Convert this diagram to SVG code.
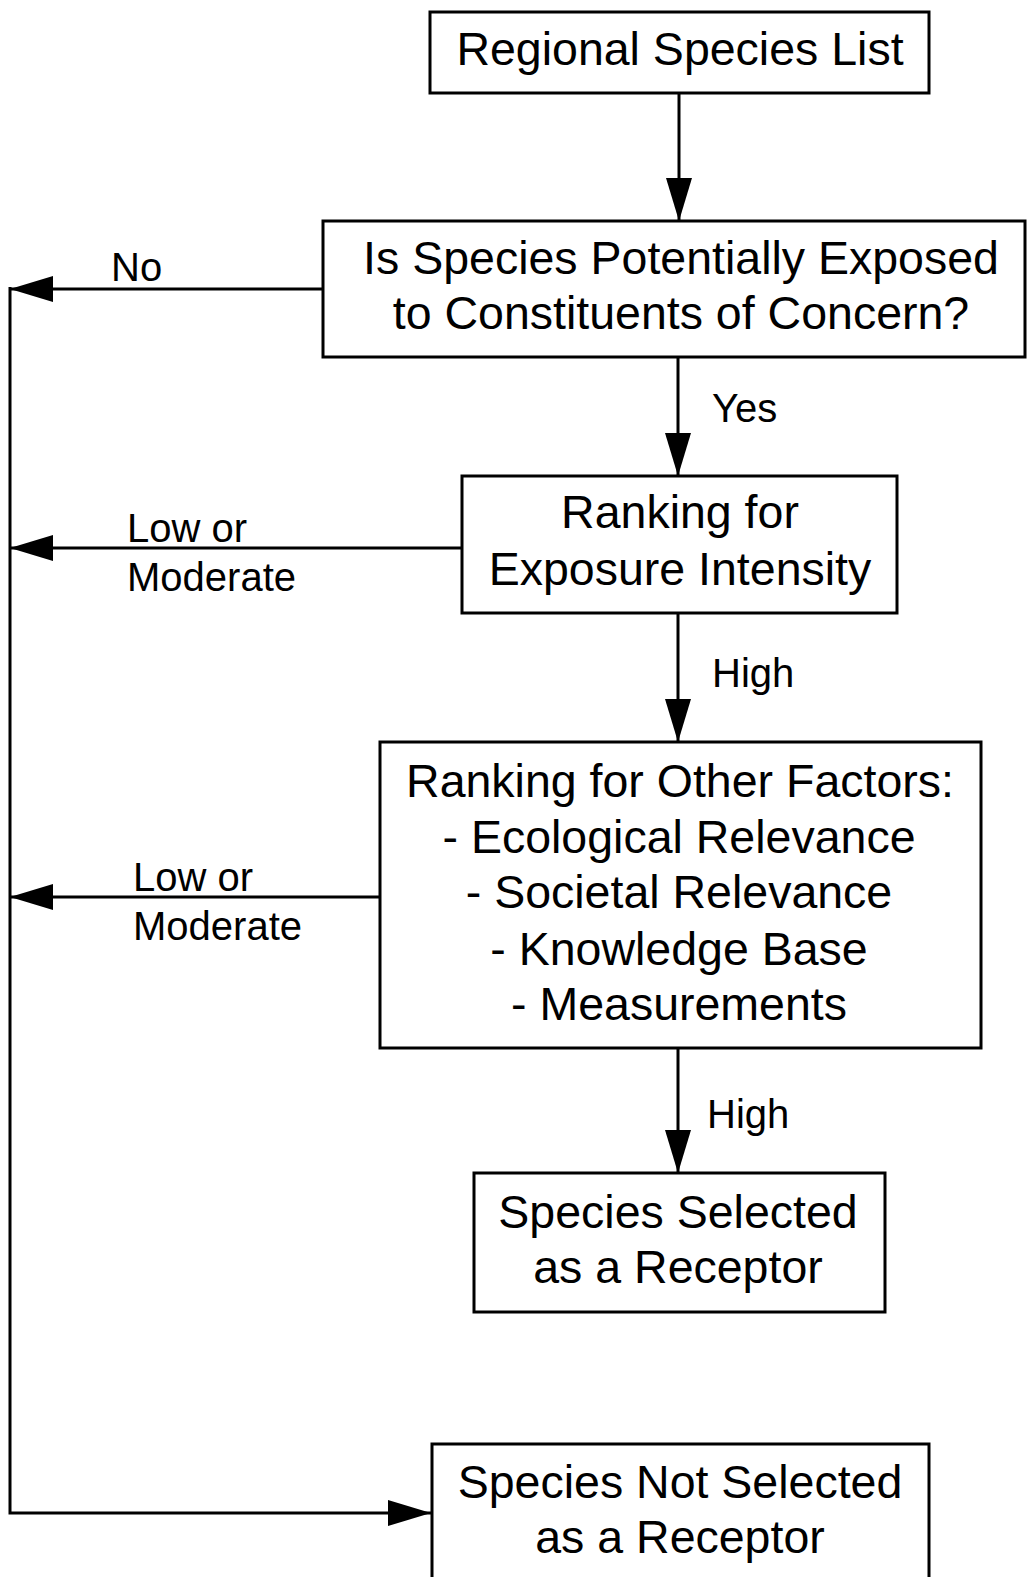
<svg xmlns="http://www.w3.org/2000/svg" width="1027" height="1577" viewBox="0 0 1027 1577">
<style>
.box{fill:#fff;stroke:#000;stroke-width:3}
.t{font-family:"Liberation Sans",Arial,Helvetica,sans-serif;font-size:46.5px;fill:#000;text-anchor:middle}
.lbl{font-family:"Liberation Sans",Arial,Helvetica,sans-serif;font-size:40px;fill:#000}
.c{fill:none;stroke:#000;stroke-width:3}
</style>
<defs>
<marker id="ah" viewBox="0 0 43 26" refX="43" refY="13" markerWidth="43" markerHeight="26" orient="auto" markerUnits="userSpaceOnUse">
<path d="M0,0 L43,13 L0,26 Z" fill="#000"/>
</marker>
</defs>
<rect width="1027" height="1577" fill="#fff"/>
<g id="connectors">
<path class="c" d="M679,93 L679,221" marker-end="url(#ah)"/>
<path class="c" d="M678,357 L678,476" marker-end="url(#ah)"/>
<path class="c" d="M678,613 L678,742" marker-end="url(#ah)"/>
<path class="c" d="M678,1048 L678,1173" marker-end="url(#ah)"/>
<path class="c" d="M323,289 L10,289" marker-end="url(#ah)"/>
<path class="c" d="M462,548 L10,548" marker-end="url(#ah)"/>
<path class="c" d="M380,897 L10,897" marker-end="url(#ah)"/>
<path class="c" d="M10,287 L10,1513 L431,1513" marker-end="url(#ah)"/>
<text class="lbl" x="111" y="281">No</text>
<text class="lbl" x="712" y="422">Yes</text>
<text class="lbl" x="127" y="542">Low or</text>
<text class="lbl" x="127" y="591">Moderate</text>
<text class="lbl" x="712" y="687">High</text>
<text class="lbl" x="133" y="891">Low or</text>
<text class="lbl" x="133" y="940">Moderate</text>
<text class="lbl" x="707" y="1128">High</text>
</g>
<g id="regional-species-list">
<rect class="box" x="430" y="12" width="499" height="81"/>
<text class="t" x="680" y="65">Regional Species List</text>
</g>
<g id="potentially-exposed">
<rect class="box" x="323" y="221" width="702" height="136"/>
<text class="t" x="681" y="274">Is Species Potentially Exposed</text>
<text class="t" x="681" y="329">to Constituents of Concern?</text>
</g>
<g id="exposure-intensity">
<rect class="box" x="462" y="476" width="435" height="137"/>
<text class="t" x="680" y="528">Ranking for</text>
<text class="t" x="680" y="585">Exposure Intensity</text>
</g>
<g id="other-factors">
<rect class="box" x="380" y="742" width="601" height="306"/>
<text class="t" x="680" y="797">Ranking for Other Factors:</text>
<text class="t" x="679" y="853">- Ecological Relevance</text>
<text class="t" x="679" y="908">- Societal Relevance</text>
<text class="t" x="679" y="965">- Knowledge Base</text>
<text class="t" x="679" y="1020">- Measurements</text>
</g>
<g id="species-selected">
<rect class="box" x="474" y="1173" width="411" height="139"/>
<text class="t" x="678" y="1228">Species Selected</text>
<text class="t" x="678" y="1283">as a Receptor</text>
</g>
<g id="species-not-selected">
<rect class="box" x="432" y="1444" width="497" height="150"/>
<text class="t" x="680" y="1498">Species Not Selected</text>
<text class="t" x="680" y="1553">as a Receptor</text>
</g>
</svg>
